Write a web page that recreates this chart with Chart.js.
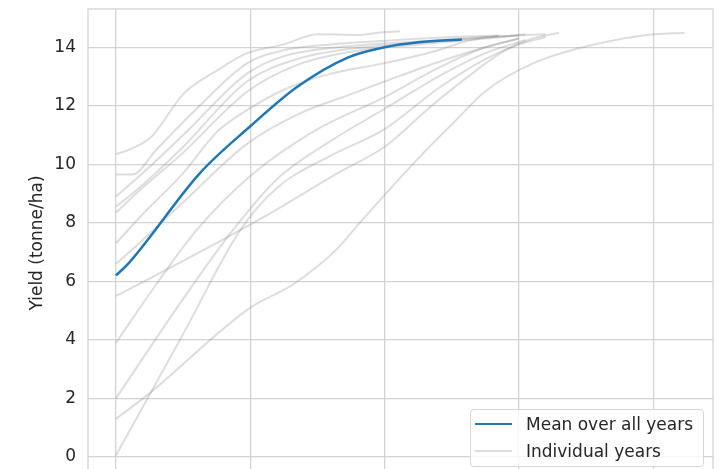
<!DOCTYPE html>
<html>
<head>
<meta charset="utf-8">
<title>Yield curves</title>
<script src="https://cdn.jsdelivr.net/npm/chart.js@4.4.1/dist/chart.umd.min.js"></script>
<style>
  html, body { margin: 0; padding: 0; background: #fff; }
  #wrap { position: relative; width: 723px; height: 469px; overflow: hidden; }
  #wrap canvas { position: absolute; left: 0; top: 0; }
  #legend {
    position: absolute; left: 470px; top: 409px; width: 234px; height: 58px;
    box-sizing: border-box; border: 1px solid #d6d6d6; border-radius: 4px;
    background: rgba(255, 255, 255, 0.8);
    font-family: 'DejaVu Sans', sans-serif; font-size: 17px; color: #262626;
  }
  #legend .row { position: absolute; left: 0; height: 27px; display: flex; align-items: center; white-space: nowrap; }
  #legend .swatch { width: 37px; margin-left: 4px; margin-right: 14px; }
</style>
</head>
<body>
<div id="wrap">
  <canvas id="chart" width="723" height="500"></canvas>
  <div id="legend"></div>
</div>
<script>
// x = days (gridlines every 20), y = yield in tonne/ha
const xGrid = [0, 20, 40, 60, 80];
const yTicks = [0, 2, 4, 6, 8, 10, 12, 14];

const meanDays  = [0, 2, 12.5, 20, 27, 34.5, 40, 45, 51.5];
const meanYield = [6.2, 6.65, 9.7, 11.3, 12.65, 13.65, 14.0, 14.17, 14.27];

// individual years as [day, yield]
const yearA = [[0, 10.35], [2, 10.5], [5.3, 10.95], [10, 12.4], [15, 13.2], [19.5, 13.8], [25, 14.1], [30, 14.45], [36, 14.42], [39, 14.5], [42.3, 14.55]];
const yearB = [[0, 9.65], [2.4, 9.65], [6, 10.5], [12, 11.9], [19.5, 13.45], [25, 13.9], [32, 14.1], [42, 14.25], [50, 14.35], [57, 14.4]];
const yearC = [[0, 8.9], [4, 9.7], [10, 11.0], [19.5, 13.1], [25, 13.7], [33, 14.0], [45, 14.2], [55, 14.35], [63.9, 14.45]];
const yearD = [[0, 8.55], [4, 9.3], [10, 10.6], [19.5, 12.83], [27, 13.6], [35, 13.95], [45, 14.15], [53, 14.3], [60, 14.4]];
const yearE = [[0, 8.35], [3, 9.0], [10, 10.4], [19.5, 12.48], [27, 13.4], [35, 13.85], [45, 14.1], [55, 14.3], [61, 14.45]];
const yearF = [[0, 7.3], [4, 8.3], [10, 9.7], [15, 11.1], [19.5, 11.85], [25, 12.55], [32, 13.1], [40, 13.46], [48, 13.9], [52, 14.2], [57, 14.4]];
const yearG = [[0, 6.6], [2, 7.0], [10, 8.7], [19.5, 10.7], [27, 11.7], [35, 12.4], [40, 12.83], [48, 13.5], [55, 14.0], [60, 14.3]];
const yearH = [[0, 5.5], [10, 6.7], [18.5, 7.75], [25, 8.6], [33, 9.7], [40, 10.6], [47, 12.0], [53, 13.1], [58, 13.9], [62, 14.3], [66, 14.5]];
const yearI = [[0, 3.9], [6, 5.9], [12, 7.75], [20, 9.6], [30, 11.2], [40, 12.3], [48, 13.3], [55, 14.0], [60, 14.3]];
const yearJ = [[0, 2.0], [10, 5.4], [17.4, 7.75], [24, 9.5], [32, 10.8], [40, 11.9], [48, 13.0], [55, 13.8], [61, 14.25]];
const yearK = [[0, 0.05], [10, 4.2], [18.5, 7.75], [24, 9.2], [32, 10.3], [40, 11.2], [48, 12.6], [55, 13.6], [60, 14.1], [64, 14.35]];
const yearL = [[0, 1.3], [4.6, 2.1], [20, 5.1], [26.4, 5.9], [32.9, 7.1], [36.3, 8.0], [44.8, 10.15], [50.6, 11.5], [55, 12.5], [62.6, 13.5], [72, 14.14], [79, 14.42], [84.7, 14.5]];

const years = [yearA, yearB, yearC, yearD, yearE, yearF, yearG, yearH, yearI, yearJ, yearK, yearL];

const gridColor = '#d3d3d3';
const meanColor = '#1f77b4';
const yearColor = 'rgba(128, 128, 128, 0.27)';

const frame = {
    id: 'frame',
    beforeDatasetsDraw(chart) {
        const {ctx, chartArea: a} = chart;
        ctx.save();
        ctx.strokeStyle = gridColor;
        ctx.lineWidth = 1.3;
        ctx.strokeRect(a.left, a.top, a.right - a.left, a.bottom - a.top);
        ctx.restore();
    }
};

let datasets = [{
    label: 'Mean over all years',
    data: meanDays.map((d, i) => ({x: d, y: meanYield[i]})),
    borderColor: meanColor,
    borderWidth: 2.5,
    pointRadius: 0,
    cubicInterpolationMode: 'monotone'
}];
years.forEach((yr) => {
    datasets.push({
        label: 'Individual years',
        data: yr,
        borderColor: yearColor,
        borderWidth: 2,
        pointRadius: 0,
        cubicInterpolationMode: 'monotone'
    });
});

// drop the half-label padding chart.js reserves at the ends of the y axis
const noEndPadding = (s) => { s.paddingTop = 0; s.paddingBottom = 0; s.paddingLeft = 0; s.paddingRight = 0; };

let chart = new Chart(document.getElementById('chart').getContext('2d'), {
    type: 'line',
    data: {datasets: datasets},
    options: {
        responsive: false,
        animation: false,
        events: [],
        layout: {padding: {left: 17, top: 9, right: 10, bottom: 23}},
        plugins: {legend: {display: false}, tooltip: {enabled: false}},
        scales: {
            x: {
                type: 'linear',
                min: -4.17,
                max: 88.9,
                afterBuildTicks: (s) => { s.ticks = xGrid.map(v => ({value: v})); },
                afterFit: noEndPadding,
                ticks: {display: false},
                grid: {color: gridColor, lineWidth: 1.3, drawTicks: false},
                border: {display: false}
            },
            y: {
                min: -0.69,
                max: 15.31,
                afterBuildTicks: (s) => { s.ticks = yTicks.map(v => ({value: v})); },
                afterFit: (s) => { s.width = 71; noEndPadding(s); },
                ticks: {padding: 12, color: '#262626', font: {family: 'DejaVu Sans', size: 17}},
                grid: {color: gridColor, lineWidth: 1.3, drawTicks: false},
                border: {display: false},
                title: {
                    display: true,
                    text: 'Yield (tonne/ha)',
                    color: '#262626',
                    font: {family: 'DejaVu Sans', size: 17},
                    padding: {top: 10, bottom: 7}
                }
            }
        }
    },
    plugins: [frame]
});

// legend inside the axes, lower right
let legend = document.getElementById('legend');
[datasets[0], datasets[1]].forEach((ds, i) => {
    let row = document.createElement('div');
    row.className = 'row';
    row.style.top = (i * 27) + 'px';
    row.innerHTML = `<span class="swatch" style="border-top:${ds.borderWidth}px solid ${ds.borderColor}"></span><span>${ds.label}</span>`;
    legend.appendChild(row);
});
</script>
</body>
</html>
